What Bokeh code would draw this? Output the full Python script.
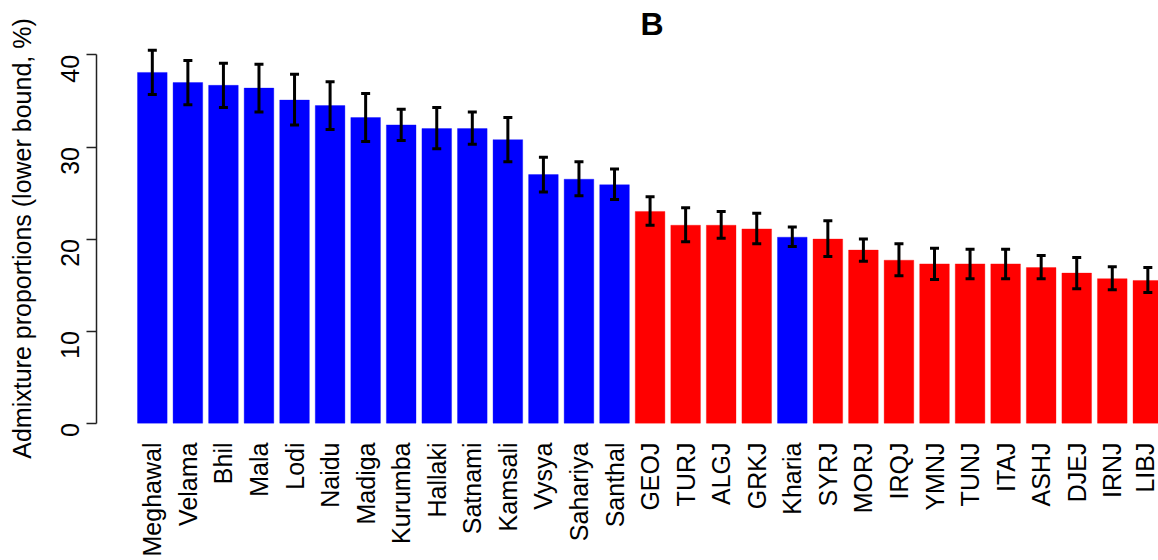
from bokeh.plotting import figure
from bokeh.models import Range1d, FixedTicker, Whisker, TeeHead, ColumnDataSource, Title
from bokeh.embed import file_html
from bokeh.resources import INLINE
import math

names = ["Meghawal", "Velama", "Bhil", "Mala", "Lodi", "Naidu", "Madiga", "Kurumba",
         "Hallaki", "Satnami", "Kamsali", "Vysya", "Sahariya", "Santhal", "GEOJ", "TURJ",
         "ALGJ", "GRKJ", "Kharia", "SYRJ", "MORJ", "IRQJ", "YMNJ", "TUNJ", "ITAJ", "ASHJ",
         "DJEJ", "IRNJ", "LIBJ"]
groups = ["India"] * 14 + ["Jewish"] * 4 + ["India"] + ["Jewish"] * 10
admix = [38.1, 37.0, 36.7, 36.4, 35.1, 34.5, 33.2, 32.4, 32.0, 32.0, 30.8, 27.0, 26.5,
         25.9, 23.0, 21.5, 21.5, 21.1, 20.2, 20.0, 18.8, 17.7, 17.3, 17.3, 17.3, 16.9,
         16.3, 15.7, 15.5]
upper = [40.5, 39.4, 39.1, 39.0, 37.9, 37.1, 35.8, 34.1, 34.3, 33.8, 33.2, 28.9, 28.4,
         27.6, 24.6, 23.4, 23.0, 22.8, 21.3, 22.0, 20.0, 19.5, 19.0, 18.9, 18.9, 18.2,
         18.0, 17.0, 16.9]
lower = [35.7, 34.6, 34.3, 33.8, 32.4, 31.9, 30.6, 30.7, 29.8, 30.3, 28.4, 25.1, 24.7,
         24.3, 21.5, 19.7, 20.1, 19.5, 19.2, 18.1, 17.6, 16.0, 15.6, 15.7, 15.7, 15.7,
         14.6, 14.5, 14.2]
group_colors = {"India": "#0000FF", "Jewish": "#FF0000"}
y_ticks = [0, 10, 20, 30, 40]

xs = [0.7 + 1.2 * i for i in range(len(names))]
src = ColumnDataSource(dict(x=xs, top=admix, upper=upper, lower=lower,
                            color=[group_colors[g] for g in groups]))

FONT = "Liberation Sans"
p = figure(width=1158, height=560, output_backend="svg", toolbar_location=None,
           x_range=Range1d(-1.184, 34.66), y_range=Range1d(-1.56, 41.68),
           min_border_left=96, min_border_right=0, min_border_top=39, min_border_bottom=123)
p.outline_line_color = None
p.grid.visible = False

p.vbar(x="x", top="top", bottom=0, width=1.0, fill_color="color", line_color="color",
       line_alpha=0.35, source=src)

w = Whisker(base="x", upper="upper", lower="lower", source=src, level="overlay",
            line_color="black", line_width=3,
            upper_head=TeeHead(size=9, line_width=3, line_color="black"),
            lower_head=TeeHead(size=9, line_width=3, line_color="black"))
p.add_layout(w)

# x axis: names only
p.xaxis.ticker = FixedTicker(ticks=xs)
p.xaxis.major_label_overrides = {x: n for x, n in zip(xs, names)}
p.xaxis.major_label_orientation = math.pi / 2
p.xaxis.axis_line_color = None
p.xaxis.major_tick_line_color = None
p.xaxis.minor_tick_line_color = None
p.xaxis.major_tick_out = 0
p.xaxis.major_label_standoff = 5
p.xaxis.major_label_text_font = FONT
p.xaxis.major_label_text_font_size = "25px"
p.xaxis.major_label_text_color = "black"

# y axis
p.yaxis.ticker = FixedTicker(ticks=y_ticks)
p.yaxis.bounds = (0, 40)
p.yaxis.major_label_orientation = math.pi / 2
p.yaxis.minor_tick_line_color = None
p.yaxis.major_tick_out = 10
p.yaxis.major_tick_in = 0
p.yaxis.axis_line_width = 1.5
p.yaxis.major_tick_line_width = 1.5
p.yaxis.axis_line_color = "#222222"
p.yaxis.major_tick_line_color = "#222222"
p.yaxis.major_label_standoff = 16
p.yaxis.major_label_text_font = FONT
p.yaxis.major_label_text_font_size = "25px"
p.yaxis.major_label_text_color = "black"
p.yaxis.axis_label = "Admixture proportions (lower bound, %)"
p.yaxis.axis_label_text_font = FONT
p.yaxis.axis_label_text_font_size = "25px"
p.yaxis.axis_label_text_font_style = "normal"
p.yaxis.axis_label_text_color = "black"
p.yaxis.axis_label_standoff = 14

title = Title(text="B", align="left", offset=544, standoff=-4,
              text_font=FONT, text_font_size="32px", text_font_style="bold",
              text_color="black")
p.add_layout(title, "above")

open("out.html", "w").write(file_html(p, INLINE))
